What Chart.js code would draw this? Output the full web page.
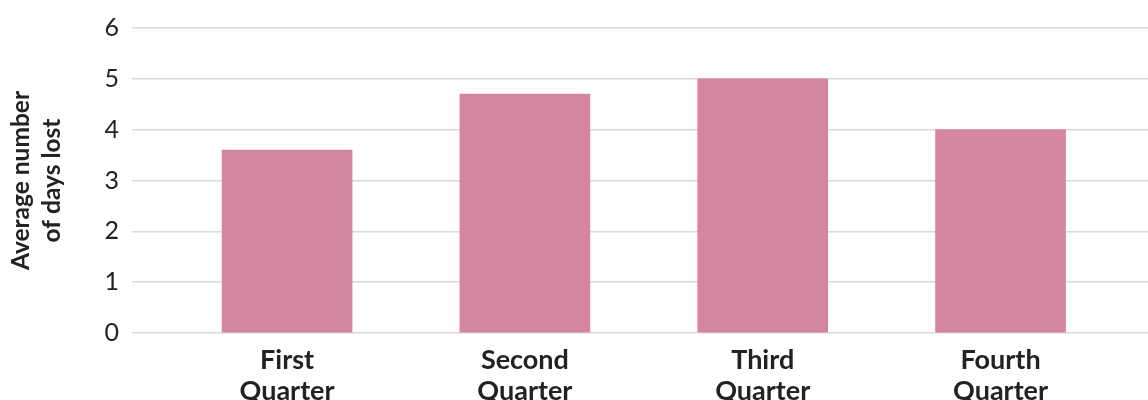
<!DOCTYPE html>
<html>
<head>
<meta charset="utf-8">
<script src="https://cdn.jsdelivr.net/npm/chart.js@4"></script>
<style>
html,body{margin:0;padding:0;background:#fff;}
#wrap{width:1148px;height:400px;}
</style>
</head>
<body>
<div id="wrap"><canvas id="c" width="1148" height="400"></canvas></div>
<script>
const categories = [["First","Quarter"],["Second","Quarter"],["Third","Quarter"],["Fourth","Quarter"]];
const values = [3.6, 4.7, 5.0, 4.0];
const yTicks = [0,1,2,3,4,5,6];
const yTitle = ["Average number","of days lost"];

const FONT = "Lato, 'Open Sans', sans-serif";
const points = values.map((v,i)=>({x:i,y:v}));

new Chart(document.getElementById('c'), {
  type: 'bar',
  data: { datasets: [{ data: points, backgroundColor: '#d4869f', borderWidth: 0, barThickness: 130 }] },
  options: {
    responsive: false,
    animation: false,
    layout: { padding: { top: 26, right: 0, left: 0, bottom: 0 } },
    plugins: { legend: { display: false }, tooltip: { enabled: false } },
    scales: {
      x: {
        type: 'linear',
        offset: false,
        min: -0.652, max: 3.62,
        grid: { display: false, offset: false },
        border: { display: false },
        afterFit: s => { s.height = 67; },
        ticks: {
          stepSize: 1, includeBounds: false, autoSkip: false, maxRotation: 0,
          padding: 4,
          color: '#222',
          font: { family: FONT, size: 27, weight: 'bold', lineHeight: 1.15 },
          callback: v => (Number.isInteger(v) && categories[v]) ? categories[v] : ''
        }
      },
      y: {
        min: yTicks[0], max: yTicks[yTicks.length-1],
        afterFit: s => { s.width = 132; },
        grid: { color: '#d9d9d9', lineWidth: 1.5, drawTicks: false },
        border: { display: false },
        afterBuildTicks: s => { s.ticks = yTicks.map(v=>({value:v})); },
        ticks: { padding: 13, color: '#222', font: { family: FONT, size: 25 } },
        title: { display: true, text: yTitle, color: '#222', padding: { top: 6, bottom: 0 },
                 font: { family: FONT, size: 24.5, weight: 'bold', lineHeight: 1.25 } }
      }
    }
  }
});
</script>
</body>
</html>
